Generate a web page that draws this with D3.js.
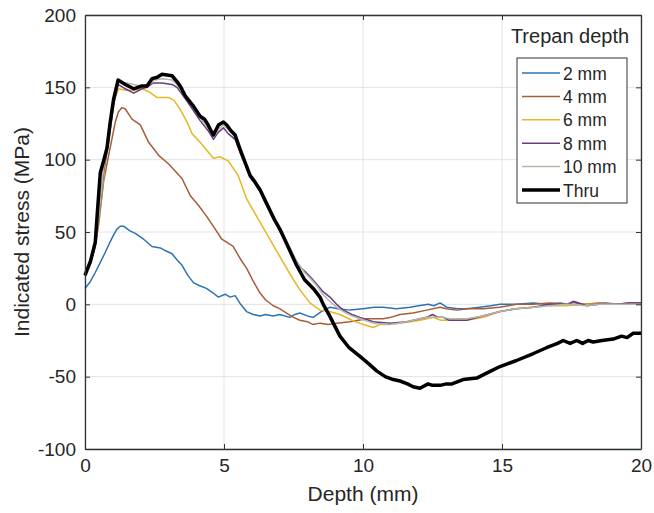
<!DOCTYPE html>
<html>
<head>
<meta charset="utf-8">
<script src="https://cdn.jsdelivr.net/npm/d3@7"></script>
<style>
  body { margin: 0; background: #fff; }
  text { font-family: "Liberation Sans", Arial, sans-serif; fill: #262626; }
</style>
</head>
<body>
<div id="chart"></div>
<script>
// depth (mm), indicated stress (MPa)
var s2mm = [[0,11],[0.2,16],[0.37,22],[0.55,29],[0.73,36],[0.9,43],[1.03,48],[1.15,52],[1.27,54],[1.39,54],[1.6,51],[1.81,49],[2.11,45],[2.41,40],[2.71,39],[2.9,37],[3.13,35],[3.3,31],[3.49,27],[3.7,20],[3.9,15],[4.1,13],[4.37,11],[4.6,8],[4.8,5],[5.04,7],[5.22,5],[5.4,6],[5.6,0],[5.81,-5],[6.05,-7],[6.29,-8],[6.5,-7],[6.77,-8],[7.0,-7],[7.37,-9],[7.55,-7],[7.73,-6],[8.0,-8],[8.21,-9],[8.5,-5],[8.81,-2],[9.1,-3],[9.53,-4],[10.0,-3],[10.4,-2],[10.73,-2],[11.2,-3],[11.69,-2],[12.0,-1],[12.35,0],[12.55,-1],[12.77,1],[13.01,-2],[13.4,-3],[13.73,-3],[14.2,-2],[14.6,-1],[14.93,0],[15.5,0],[16.13,1],[16.6,0],[17.1,1],[17.35,0],[17.56,2],[17.8,0],[18.28,0],[18.7,1],[19.24,0],[19.6,1],[20,1]];

var s4mm = [[0,20],[0.2,28],[0.37,40],[0.49,55],[0.67,85],[0.85,103],[1.09,126],[1.2,133],[1.33,136],[1.45,135],[1.69,128],[1.99,124],[2.29,112],[2.65,103],[3.01,97],[3.25,92],[3.49,87],[3.79,75],[4.1,68],[4.37,61],[4.65,53],[4.92,45],[5.33,40],[5.6,31],[5.81,25],[6.05,16],[6.29,8],[6.5,3],[6.77,-1],[7.0,-3],[7.25,-6],[7.5,-9],[7.73,-11],[8.0,-12],[8.21,-14],[8.45,-13],[8.75,-14],[9.05,-13],[9.53,-12],[10.13,-10],[10.73,-10],[11.0,-9],[11.33,-7],[11.8,-6],[12.29,-4],[12.77,-2],[13.0,-3],[13.37,-4],[13.8,-3],[14.33,-3],[14.9,-2],[15.53,0],[16.1,0],[16.73,1],[17.3,0],[17.93,0],[18.5,1],[19.13,0],[19.6,1],[20,1]];

var s6mm = [[0,20],[0.2,29],[0.37,42],[0.5,58],[0.67,88],[0.85,115],[1.03,140],[1.21,149],[1.45,148],[1.75,148],[2.05,149],[2.29,147],[2.59,143],[3.01,143],[3.2,141],[3.42,135],[3.67,126],[3.85,118],[4.14,112],[4.4,106],[4.62,101],[4.86,102],[5.16,99],[5.51,89],[5.81,73],[6.05,65],[6.29,57],[6.77,41],[7.25,25],[7.5,17],[7.73,10],[8.09,1],[8.45,-4],[8.8,-5],[9.17,-7],[9.6,-11],[10.01,-14],[10.37,-16],[10.6,-14],[10.85,-14],[11.33,-13],[11.7,-12],[12.05,-11],[12.53,-9],[12.8,-11],[13.01,-11],[13.4,-10],[13.73,-11],[14.33,-9],[14.93,-5],[15.5,-3],[16.13,-2],[16.7,-1],[17.33,-1],[17.9,0],[18.53,0],[19.2,0],[20,0]];

var s8mm = [[0,20],[0.2,29],[0.37,42],[0.5,60],[0.67,92],[0.85,112],[1.03,138],[1.19,152],[1.45,149],[1.75,146],[2.05,149],[2.23,150],[2.45,153],[2.77,153],[3.13,152],[3.31,150],[3.61,142],[3.9,134],[4.14,127],[4.43,120],[4.62,114],[4.8,119],[4.98,122],[5.15,118],[5.4,114],[5.6,104],[5.94,88],[6.3,78],[6.83,57],[7.3,40],[7.61,28],[7.9,23],[8.1,19],[8.33,14],[8.55,9],[8.81,5],[9.05,0],[9.29,-4],[9.6,-7],[9.89,-9],[10.37,-12],[10.97,-13],[11.57,-12],[12.29,-9],[12.5,-7],[12.7,-9],[12.89,-9],[13.1,-11],[13.73,-11],[14.3,-8],[14.93,-5],[15.5,-3],[16.13,-2],[16.7,0],[17.33,0],[17.6,2],[18.05,-1],[18.5,0],[19.1,0],[19.6,1],[20,1]];

var s10mm = [[0,20],[0.2,30],[0.37,43],[0.5,62],[0.67,94],[0.85,115],[1.03,140],[1.19,154],[1.5,153],[1.75,152],[2.05,151],[2.3,152],[2.5,155],[2.8,156],[3.13,155],[3.31,152],[3.61,144],[3.9,136],[4.14,129],[4.43,122],[4.62,116],[4.8,121],[4.98,124],[5.15,121],[5.4,116],[5.6,106],[5.94,90],[6.3,80],[6.83,59],[7.3,42],[7.61,30],[7.9,22],[8.1,18],[8.33,13],[8.55,7],[8.81,2],[9.05,-2],[9.29,-5],[9.6,-8],[9.89,-10],[10.37,-13],[10.97,-14],[11.57,-12],[12.29,-9],[12.89,-9],[13.1,-10],[13.73,-10],[14.3,-8],[14.93,-5],[15.5,-3],[16.13,-2],[16.7,-1],[17.33,0],[18.05,-1],[18.5,0],[19.1,0],[20,0]];

var sThru = [[0,20],[0.2,30],[0.37,43],[0.45,65],[0.55,91],[0.68,100],[0.79,108],[0.9,125],[1.03,142],[1.19,155],[1.45,152],[1.75,149],[2.05,151],[2.23,151],[2.41,156],[2.6,157],[2.77,159],[3.13,158],[3.31,154],[3.45,150],[3.61,144],[3.9,137],[4.14,130],[4.3,128],[4.43,124],[4.56,119],[4.62,117],[4.8,124],[4.98,126],[5.1,124],[5.25,120],[5.4,117],[5.6,106],[5.8,96],[5.94,89],[6.1,85],[6.3,79],[6.5,71],[6.83,58],[7.01,52],[7.3,40],[7.61,27],[7.9,17],[8.21,11],[8.45,5],[8.57,0],[8.8,-8],[9.17,-22],[9.5,-30],[9.89,-36],[10.2,-41],[10.49,-46],[10.8,-50],[11.09,-52],[11.33,-53],[11.6,-55],[11.8,-57],[12.05,-58],[12.34,-55],[12.5,-56],[12.77,-56],[13.0,-55],[13.2,-55],[13.6,-52],[14.09,-51],[14.5,-47],[14.93,-43],[15.5,-39],[16.13,-34],[16.6,-30],[17.0,-27],[17.2,-25],[17.45,-27],[17.69,-25],[17.9,-27],[18.1,-25],[18.28,-26],[18.6,-25],[19.0,-24],[19.3,-22],[19.5,-23],[19.72,-20],[20,-20]];

var seriesNames = ["2 mm", "4 mm", "6 mm", "8 mm", "10 mm", "Thru"];
var seriesData = [s2mm, s4mm, s6mm, s8mm, s10mm, sThru];
var seriesColors = ["#2b74b3", "#a65d3a", "#e8b624", "#6b3c7d", "#b6b6aa", "#000000"];
var seriesWidths = [1.5, 1.5, 1.5, 1.5, 1.5, 3.5];

var xTicks = [0, 5, 10, 15, 20];
var yTicks = [-100, -50, 0, 50, 100, 150, 200];

var width = 654, height = 513;
var margin = { top: 15, right: 13, bottom: 64, left: 85 };
var w = width - margin.left - margin.right;
var h = height - margin.top - margin.bottom;

var svg = d3.select("#chart").append("svg")
    .attr("width", width)
    .attr("height", height);

var g = svg.append("g")
    .attr("transform", "translate(" + margin.left + "," + margin.top + ")");

var x = d3.scaleLinear().domain([0, 20]).range([0, w]);
var y = d3.scaleLinear().domain([-100, 200]).range([h, 0]);

// grid
g.append("g").selectAll("line").data(xTicks).join("line")
    .attr("x1", d => x(d)).attr("x2", d => x(d))
    .attr("y1", 0).attr("y2", h)
    .attr("stroke", "#e3e3e3").attr("stroke-width", 1);
g.append("g").selectAll("line").data(yTicks).join("line")
    .attr("x1", 0).attr("x2", w)
    .attr("y1", d => y(d)).attr("y2", d => y(d))
    .attr("stroke", "#e3e3e3").attr("stroke-width", 1);

// curves
var line = d3.line().x(d => x(d[0])).y(d => y(d[1]));
g.append("g").selectAll("path").data(seriesData).join("path")
    .attr("d", line)
    .attr("fill", "none")
    .attr("stroke", (d, i) => seriesColors[i])
    .attr("stroke-width", (d, i) => seriesWidths[i])
    .attr("stroke-linejoin", "round");

// axes, MATLAB style: ticks inward on all four sides
var axisColor = "#333";
var plainFmt = d => String(d);   // hyphen minus like the original
var xAxis = g.append("g").attr("transform", "translate(0," + h + ")")
    .call(d3.axisBottom(x).tickValues(xTicks).tickSizeInner(-5).tickSizeOuter(0).tickPadding(10).tickFormat(plainFmt));
var yAxis = g.append("g")
    .call(d3.axisLeft(y).tickValues(yTicks).tickSizeInner(-5).tickSizeOuter(0).tickPadding(9).tickFormat(plainFmt));
var xTop = g.append("g")
    .call(d3.axisTop(x).tickValues(xTicks).tickSizeInner(-5).tickSizeOuter(0).tickFormat(""));
var yRight = g.append("g").attr("transform", "translate(" + w + ",0)")
    .call(d3.axisRight(y).tickValues(yTicks).tickSizeInner(-5).tickSizeOuter(0).tickFormat(""));

[xAxis, yAxis, xTop, yRight].forEach(function (a) {
    a.selectAll("path").attr("stroke", axisColor).attr("stroke-width", 1.3);
    a.selectAll("line").attr("stroke", axisColor);
    a.selectAll("text").style("font-size", "19px").attr("fill", "#262626");
});

// axis titles
svg.append("text")
    .attr("x", margin.left + w / 2)
    .attr("y", 501)
    .attr("text-anchor", "middle")
    .style("font-size", "21px")
    .text("Depth (mm)");

svg.append("text")
    .attr("transform", "translate(29," + (margin.top + h / 2) + ") rotate(-90)")
    .attr("text-anchor", "middle")
    .style("font-size", "21px")
    .text("Indicated stress (MPa)");

// legend
var legend = svg.append("g");
legend.append("text")
    .attr("x", 570)
    .attr("y", 43)
    .attr("text-anchor", "middle")
    .style("font-size", "20px")
    .text("Trepan depth");
legend.append("rect")
    .attr("x", 517).attr("y", 58)
    .attr("width", 110).attr("height", 145)
    .attr("fill", "#fff")
    .attr("stroke", "#333").attr("stroke-width", 1);

var items = legend.selectAll("g.item").data(seriesNames).join("g")
    .attr("class", "item")
    .attr("transform", (d, i) => "translate(0," + (73 + i * 23.4) + ")");
items.append("line")
    .attr("x1", 522).attr("x2", 560)
    .attr("y1", 0).attr("y2", 0)
    .attr("stroke", (d, i) => seriesColors[i])
    .attr("stroke-width", (d, i) => seriesWidths[i]);
items.append("text")
    .attr("x", 563).attr("y", 6.5)
    .style("font-size", "17.5px")
    .text(d => d);
</script>
</body>
</html>
